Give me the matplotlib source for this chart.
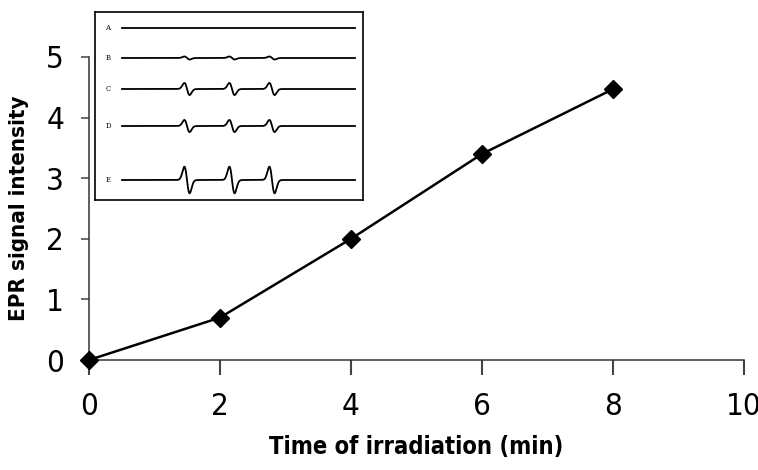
import numpy as np
import matplotlib
matplotlib.use("Agg")
import matplotlib.pyplot as plt
from matplotlib import font_manager as fm

# ---- data ----
time_min = [0, 2, 4, 6, 8]
epr_intensity = [0.0, 0.7, 2.0, 3.4, 4.47]
x_ticks = [0, 2, 4, 6, 8, 10]
y_ticks = [0, 1, 2, 3, 4, 5]

# inset EPR spectra (relative peak amplitudes of the three lines)
trace_labels = ["A", "B", "C", "D", "E"]
trace_amps = [0.0, 0.25, 1.0, 1.0, 2.2]


def find_font(keys, bold):
    for f in fm.fontManager.ttflist:
        fn = f.fname.lower()
        if any(k in fn for k in keys):
            isb = "bold" in fn
            if isb == bold and "oblique" not in fn and "italic" not in fn:
                return f.fname
    return None


reg_path = find_font(["liberationsansnarrow-regular", "dejavusanscondensed.ttf"], False)
bold_path = find_font(["liberationsansnarrow-bold", "dejavusanscondensed-bold"], True)


def fp(size, bold=False):
    path = bold_path if bold else reg_path
    if path:
        return fm.FontProperties(fname=path, size=size)
    return fm.FontProperties(family="Liberation Sans", size=size,
                             weight="bold" if bold else "normal")


fig = plt.figure(figsize=(7.58, 4.70), dpi=100)
W, H = 758, 470
ax = fig.add_axes([89 / W, 1 - 360 / H, (744 - 89) / W, (360 - 57) / H])

ax.plot(time_min, epr_intensity, color="black", lw=1.8, marker="D",
        markersize=9, markerfacecolor="black", markeredgecolor="black",
        clip_on=False, zorder=5)
ax.set_xlim(0, 10)
ax.set_ylim(0, 5)
ax.xaxis.set_ticks_position("bottom")
ax.yaxis.set_ticks_position("left")
ax.set_xticks(x_ticks)
ax.set_yticks(y_ticks)
ax.set_xticklabels([str(v) for v in x_ticks], fontproperties=fp(22.5))
ax.set_yticklabels([str(v) for v in y_ticks], fontproperties=fp(22.5))
ax.spines["top"].set_visible(False)
ax.spines["right"].set_visible(False)
for s in ("left", "bottom"):
    ax.spines[s].set_linewidth(1.1)
    ax.spines[s].set_color("#333333")
ax.tick_params(axis="x", which="major", bottom=True, direction="out",
               length=11, width=1.5, pad=12, color="#444444")
ax.tick_params(axis="y", which="major", left=True, direction="out",
               length=6, width=1.1, pad=12, color="#444444")
ax.set_xlabel("Time of irradiation (min)", fontproperties=fp(17, True),
              labelpad=10)
ax.set_ylabel("EPR signal intensity", fontproperties=fp(16, True),
              labelpad=12)

# ---- inset ----
ix0, iy0, ix1, iy1 = 95, 12, 363, 200
iax = fig.add_axes([ix0 / W, 1 - iy1 / H, (ix1 - ix0) / W, (iy1 - iy0) / H])
iax.set_xlim(0, ix1 - ix0)
iax.set_ylim(iy1 - iy0, 0)
iax.set_xticks([])
iax.set_yticks([])
for s in iax.spines.values():
    s.set_linewidth(1.2)
iax.set_facecolor("white")

baselines = [16, 46, 77, 114, 168]
peak_pos = [92, 137, 177]
xs = np.linspace(27, 260, 900)
w = 2.6
for lab, amp, b in zip(trace_labels, trace_amps, baselines):
    y = np.zeros_like(xs)
    for p in peak_pos:
        u = (xs - p) / w
        y += -u * np.exp(-0.5 * u ** 2)
    iax.plot(xs, b - amp * 10.0 * y, color="black", lw=1.3, clip_on=True)
    iax.text(13, b, lab, fontsize=5, family="DejaVu Serif",
             ha="center", va="center")

fig.savefig("out.png", dpi=100)
